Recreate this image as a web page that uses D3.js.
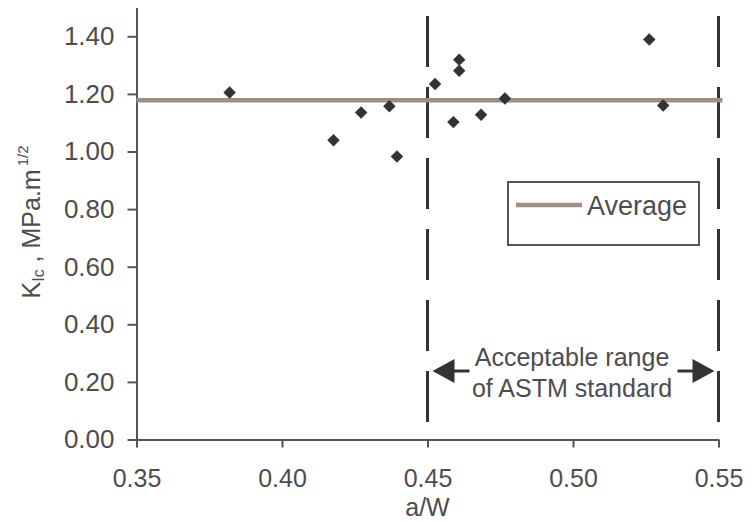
<!DOCTYPE html>
<html>
<head>
<meta charset="utf-8">
<script src="https://cdn.jsdelivr.net/npm/d3@7"></script>
<style>
  html, body { margin: 0; padding: 0; background: #fff; }
  svg { display: block; }
  text { font-family: "Liberation Sans", Arial, sans-serif; fill: #4d4d4d; }
</style>
</head>
<body>
<svg id="chart" width="751" height="523"></svg>
<script>
// Fracture toughness measurements against crack length ratio
const crackRatio = [0.382, 0.4177, 0.4272, 0.4369, 0.4395, 0.4526, 0.4609, 0.4609, 0.4589, 0.4684, 0.4766, 0.5262, 0.531];
const toughness  = [1.205, 1.039, 1.135, 1.157, 0.983, 1.234, 1.319, 1.280, 1.102, 1.128, 1.184, 1.389, 1.160];

// Limits of the valid a/W window
const astmLimits = [0.45, 0.55];

const xTickValues = [0.35, 0.40, 0.45, 0.50, 0.55];
const yTickValues = [0.0, 0.2, 0.4, 0.6, 0.8, 1.0, 1.2, 1.4];

const xTitle = "a/W";
const legendLabel = "Average";
const rangeNote = ["Acceptable range", "of ASTM standard"];

const svg = d3.select("#chart");

const x = d3.scaleLinear().domain([0.35, 0.55]).range([136.5, 718.5]);
const y = d3.scaleLinear().domain([0, 1.5]).range([439.5, 7.5]);

const axisColor = "#555";
const textColor = "#4d4d4d";

// Y axis
const yAxis = svg.append("g")
  .attr("transform", `translate(${x(0.35)},0)`)
  .call(d3.axisLeft(y).tickValues(yTickValues).tickFormat(d3.format(".2f")).tickSize(9).tickSizeOuter(0).tickPadding(13));
yAxis.select(".domain").attr("stroke", axisColor).attr("stroke-width", 2);
yAxis.selectAll(".tick line").attr("stroke", axisColor).attr("stroke-width", 2);
yAxis.selectAll(".tick text")
  .attr("font-size", 26).attr("font-family", "Liberation Sans, Arial, sans-serif").attr("fill", textColor);

// X axis
const xAxis = svg.append("g")
  .attr("transform", `translate(0,${y(0)})`)
  .call(d3.axisBottom(x).tickValues(xTickValues).tickFormat(d3.format(".2f")).tickSize(8).tickSizeOuter(0).tickPadding(39));
xAxis.select(".domain").attr("stroke", axisColor).attr("stroke-width", 2);
xAxis.selectAll(".tick line").attr("stroke", axisColor).attr("stroke-width", 2);
xAxis.selectAll(".tick text")
  .attr("font-size", 25).attr("font-family", "Liberation Sans, Arial, sans-serif").attr("fill", textColor)
  .attr("dy", "0");

// Axis titles
svg.append("text")
  .attr("x", x(0.45)).attr("y", 516)
  .attr("text-anchor", "middle").attr("font-size", 25)
  .text(xTitle);

const yTitle = svg.append("text")
  .attr("transform", "translate(40,222) rotate(-90)")
  .attr("text-anchor", "middle").attr("font-size", 25);
yTitle.append("tspan").text("K");
yTitle.append("tspan").attr("font-size", 16).attr("dy", 4).text("Ic");
yTitle.append("tspan").attr("dy", -4).text(" , MPa.m");
yTitle.append("tspan").attr("font-size", 15).attr("dy", -12).attr("dx", 3).text("1/2");

// Dashed lines at the ASTM limits
svg.selectAll("line.limit")
  .data(astmLimits)
  .join("line")
  .attr("class", "limit")
  .attr("x1", d => x(d)).attr("x2", d => x(d))
  .attr("y1", 16).attr("y2", y(0))
  .attr("stroke", "#333").attr("stroke-width", 3)
  .attr("stroke-dasharray", "51,20");

// Average toughness line
const avg = d3.mean(toughness);
svg.append("line")
  .attr("x1", x(0.35)).attr("x2", x(0.55) + 4)
  .attr("y1", y(avg)).attr("y2", y(avg))
  .attr("stroke", "#9e8e86").attr("stroke-width", 4.5);

// Data points as diamonds
const diamond = d3.symbol().type(d3.symbolSquare).size(78);
svg.selectAll("path.pt")
  .data(crackRatio.map((a, i) => [a, toughness[i]]))
  .join("path")
  .attr("class", "pt")
  .attr("d", diamond)
  .attr("transform", d => `translate(${x(d[0])},${y(d[1])}) rotate(45)`)
  .attr("fill", "#333");

// Legend
const legend = svg.append("g");
legend.append("rect")
  .attr("x", 508).attr("y", 182).attr("width", 191).attr("height", 63)
  .attr("fill", "#fff").attr("stroke", "#555").attr("stroke-width", 2);
legend.append("line")
  .attr("x1", 516).attr("x2", 582).attr("y1", 205).attr("y2", 205)
  .attr("stroke", "#9e8e86").attr("stroke-width", 4.5);
legend.append("text")
  .attr("x", 587).attr("y", 215).attr("font-size", 27)
  .text(legendLabel);

// Arrows marking the acceptable range
const arrowY = 371;
const arrows = svg.append("g").attr("fill", "#333").attr("stroke", "#333");
arrows.append("line")
  .attr("x1", x(astmLimits[0]) + 24).attr("x2", x(astmLimits[0]) + 42)
  .attr("y1", arrowY).attr("y2", arrowY).attr("stroke-width", 3);
arrows.append("path")
  .attr("d", d3.line()([[x(astmLimits[0]) + 5, arrowY], [x(astmLimits[0]) + 27, arrowY - 12], [x(astmLimits[0]) + 27, arrowY + 12]]) + "Z")
  .attr("stroke", "none");
arrows.append("line")
  .attr("x1", x(astmLimits[1]) - 41).attr("x2", x(astmLimits[1]) - 24)
  .attr("y1", arrowY).attr("y2", arrowY).attr("stroke-width", 3);
arrows.append("path")
  .attr("d", d3.line()([[x(astmLimits[1]) - 4, arrowY], [x(astmLimits[1]) - 26, arrowY - 12], [x(astmLimits[1]) - 26, arrowY + 12]]) + "Z")
  .attr("stroke", "none");

svg.append("text")
  .attr("x", 572).attr("y", 366)
  .attr("text-anchor", "middle").attr("font-size", 25)
  .selectAll("tspan")
  .data(rangeNote)
  .join("tspan")
  .attr("x", 572)
  .attr("dy", (d, i) => i === 0 ? 0 : 31)
  .text(d => d);
</script>
</body>
</html>
